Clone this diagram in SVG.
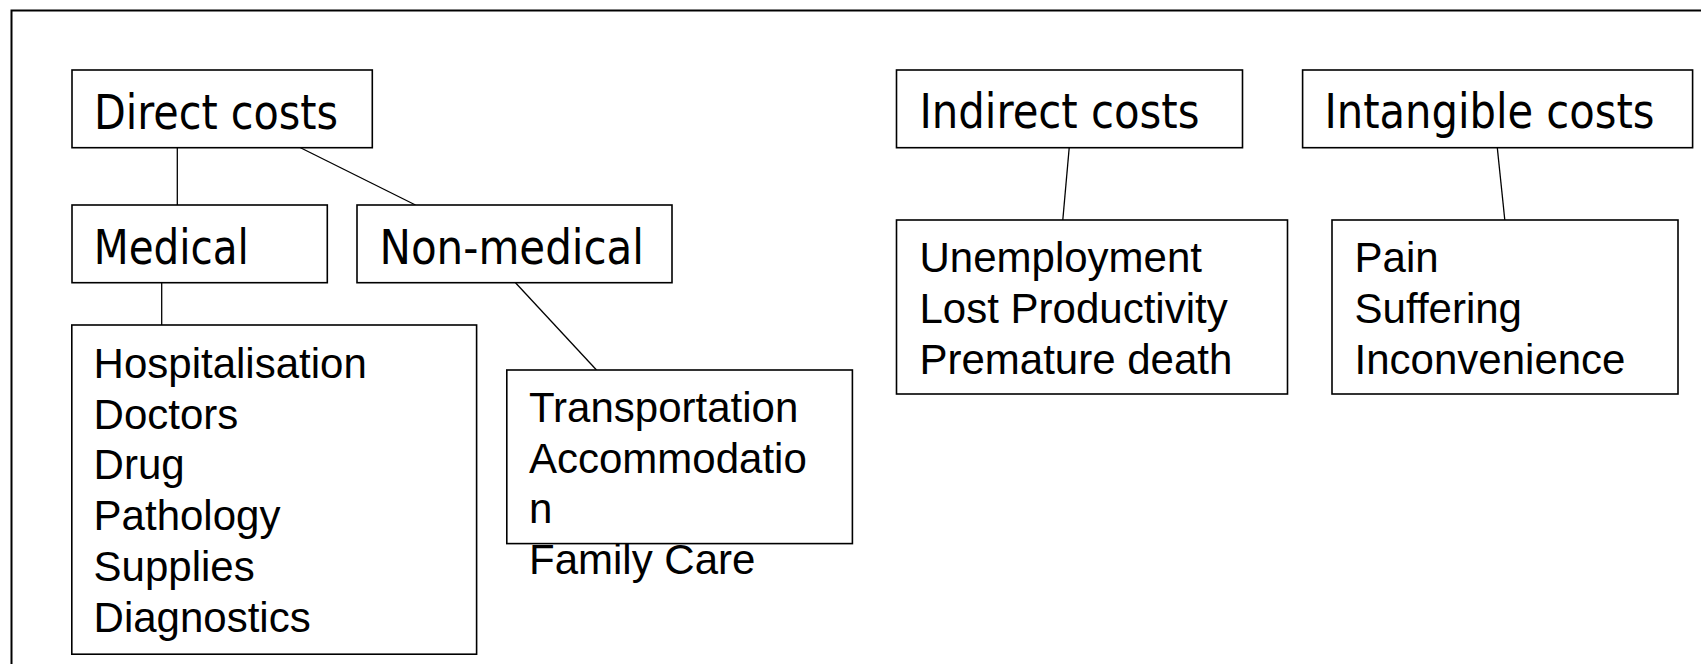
<svg xmlns="http://www.w3.org/2000/svg" width="1701" height="664" viewBox="0 0 1701 664">
<style>
  .box { fill: #fff; stroke: #000; stroke-width: 1.6; }
  .conn { stroke: #000; stroke-width: 1.3; fill: none; }
  .frame { stroke: #000; stroke-width: 2; fill: none; }
  .title { font-family: "DejaVu Sans Condensed", "DejaVu Sans", sans-serif; font-stretch: condensed; font-size: 48px; fill: #000; }
  .item { font-family: "Liberation Sans", Arial, sans-serif; font-size: 42px; fill: #000; }
</style>
<rect width="1701" height="664" fill="#fff"/>
<path class="frame" d="M11.5,664 V10.5 H1701"/>
<g id="connectors">
  <line class="conn" x1="177.3" y1="147.7" x2="177.3" y2="205"/>
  <line class="conn" x1="297" y1="146" x2="415.5" y2="205"/>
  <line class="conn" x1="161.7" y1="282.7" x2="161.7" y2="325"/>
  <line class="conn" x1="515.5" y1="282.7" x2="596.5" y2="370"/>
  <line class="conn" x1="1069.2" y1="147.7" x2="1062.8" y2="220"/>
  <line class="conn" x1="1497.3" y1="147.7" x2="1504.8" y2="220"/>
</g>
<g id="direct-costs">
  <rect class="box" x="72" y="70" width="300.3" height="77.7"/>
  <text class="title" x="94" y="128.5" textLength="244" lengthAdjust="spacingAndGlyphs">Direct costs</text>
</g>
<g id="medical">
  <rect class="box" x="72" y="205" width="255.3" height="77.7"/>
  <text class="title" x="93.8" y="263.5" textLength="155" lengthAdjust="spacingAndGlyphs">Medical</text>
</g>
<g id="non-medical">
  <rect class="box" x="357" y="205" width="315" height="77.7"/>
  <text class="title" x="379.5" y="263.5" textLength="264.5" lengthAdjust="spacingAndGlyphs">Non-medical</text>
</g>
<g id="medical-items">
  <rect class="box" x="71.8" y="325" width="404.8" height="329.2"/>
  <text class="item" x="93.6" y="378">Hospitalisation</text>
  <text class="item" x="93.6" y="428.7">Doctors</text>
  <text class="item" x="93.6" y="479.4">Drug</text>
  <text class="item" x="93.6" y="530">Pathology</text>
  <text class="item" x="93.6" y="580.8">Supplies</text>
  <text class="item" x="93.6" y="631.5">Diagnostics</text>
</g>
<g id="non-medical-items">
  <rect class="box" x="506.8" y="370" width="345.6" height="173.6"/>
  <text class="item" x="529" y="422">Transportation</text>
  <text class="item" x="529" y="472.7">Accommodatio</text>
  <text class="item" x="529" y="523.4">n</text>
  <text class="item" x="529" y="574">Family Care</text>
</g>
<g id="indirect-costs">
  <rect class="box" x="896.5" y="70" width="346" height="77.7"/>
  <text class="title" x="919.5" y="128" textLength="280" lengthAdjust="spacingAndGlyphs">Indirect costs</text>
</g>
<g id="indirect-items">
  <rect class="box" x="896.5" y="220" width="391" height="174"/>
  <text class="item" x="919.5" y="271.7">Unemployment</text>
  <text class="item" x="919.5" y="322.7">Lost Productivity</text>
  <text class="item" x="919.5" y="373.5">Premature death</text>
</g>
<g id="intangible-costs">
  <rect class="box" x="1302.6" y="70" width="390" height="77.7"/>
  <text class="title" x="1324.5" y="128" textLength="330" lengthAdjust="spacingAndGlyphs">Intangible costs</text>
</g>
<g id="intangible-items">
  <rect class="box" x="1332" y="220" width="346" height="174"/>
  <text class="item" x="1354.6" y="271.7">Pain</text>
  <text class="item" x="1354.6" y="322.7">Suffering</text>
  <text class="item" x="1354.6" y="373.5">Inconvenience</text>
</g>
</svg>
